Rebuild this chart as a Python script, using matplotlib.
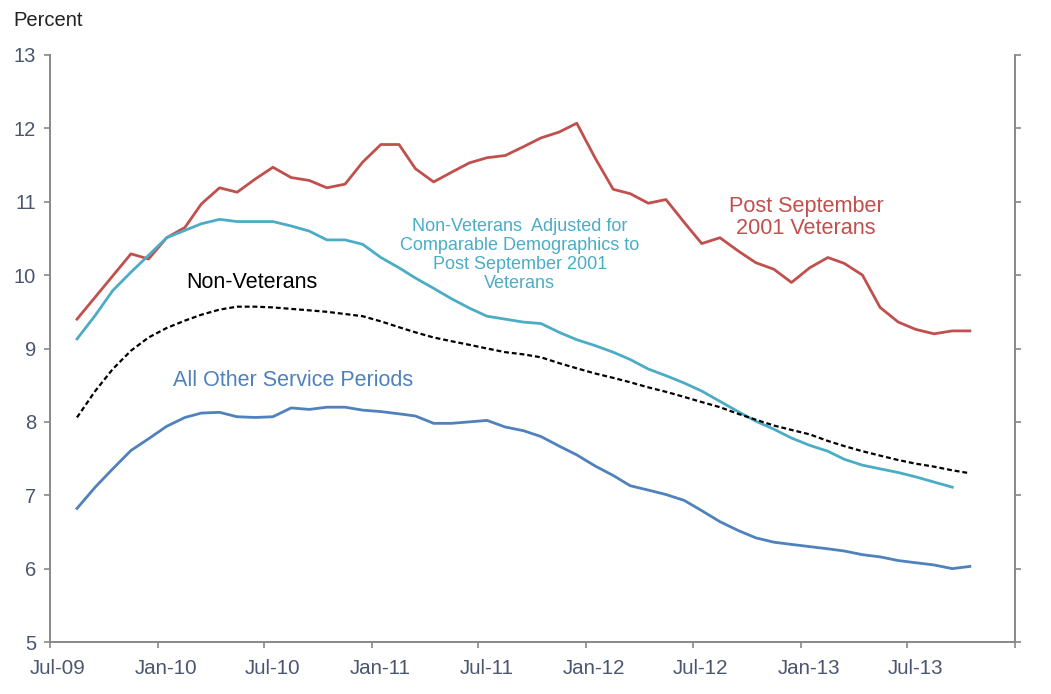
import matplotlib
matplotlib.use("Agg")
import matplotlib.pyplot as plt
import matplotlib.dates as mdates
import matplotlib.transforms as mtransforms
import pandas as pd

plt.rcParams['font.family'] = ['Liberation Sans', 'DejaVu Sans']

# Monthly values, Aug-2009 onward
post911 = [9.40, 9.70, 9.99, 10.29, 10.22,
           10.51, 10.65, 10.97, 11.19, 11.13, 11.31, 11.47, 11.33, 11.29, 11.19, 11.24, 11.54,
           11.78, 11.78, 11.45, 11.27, 11.40, 11.53, 11.60, 11.63, 11.75, 11.87, 11.95, 12.07,
           11.60, 11.17, 11.11, 10.98, 11.03, 10.72, 10.43, 10.51, 10.33, 10.17, 10.08, 9.90,
           10.10, 10.24, 10.16, 10.00, 9.56, 9.36, 9.26, 9.20, 9.24, 9.24]

nonvet_adj = [9.13, 9.45, 9.79, 10.04, 10.27,
              10.51, 10.61, 10.70, 10.76, 10.73, 10.73, 10.73, 10.67, 10.60, 10.48, 10.48, 10.42,
              10.24, 10.10, 9.96, 9.82, 9.68, 9.55, 9.44, 9.40, 9.36, 9.34, 9.22, 9.12,
              9.04, 8.95, 8.85, 8.72, 8.63, 8.53, 8.42, 8.28, 8.14, 8.01, 7.90, 7.78,
              7.68, 7.60, 7.49, 7.41, 7.36, 7.31, 7.25, 7.18, 7.11]

nonvet = [8.06, 8.42, 8.72, 8.97, 9.15,
          9.28, 9.38, 9.46, 9.53, 9.57, 9.57, 9.56, 9.54, 9.52, 9.50, 9.47, 9.44,
          9.37, 9.29, 9.22, 9.15, 9.10, 9.05, 9.00, 8.95, 8.92, 8.88, 8.80, 8.73,
          8.66, 8.60, 8.54, 8.47, 8.41, 8.34, 8.27, 8.20, 8.11, 8.03, 7.95, 7.89,
          7.83, 7.74, 7.67, 7.60, 7.54, 7.48, 7.43, 7.39, 7.34, 7.30]

other_periods = [6.82, 7.11, 7.36, 7.61, 7.77,
                 7.94, 8.06, 8.12, 8.13, 8.07, 8.06, 8.07, 8.19, 8.17, 8.20, 8.20, 8.16,
                 8.14, 8.11, 8.08, 7.98, 7.98, 8.00, 8.02, 7.93, 7.88, 7.80, 7.67, 7.55,
                 7.40, 7.27, 7.13, 7.07, 7.01, 6.93, 6.79, 6.64, 6.52, 6.42, 6.36, 6.33,
                 6.30, 6.27, 6.24, 6.19, 6.16, 6.11, 6.08, 6.05, 6.00, 6.03]

start_month = '2009-08-01'
y_ticks = [5, 6, 7, 8, 9, 10, 11, 12, 13]
x_start, x_end = '2009-07-01', '2014-01-01'


def months(n):
    return pd.date_range(start_month, periods=n, freq='MS') + pd.Timedelta(days=15)


RED = '#C0504D'
CYAN = '#4BACC6'
BLUE = '#4F81BD'
TICKC = '#4A5670'
SPINE = '#888888'

fig = plt.figure(figsize=(10.51, 6.94), dpi=100)
ax = fig.add_axes([50 / 1051, 1 - 642 / 694, (1015 - 50) / 1051, (642 - 55) / 694])

ax.plot(months(len(post911)), post911, color=RED, lw=2.0, solid_joinstyle='round')
ax.plot(months(len(nonvet_adj)), nonvet_adj, color=CYAN, lw=2.0, solid_joinstyle='round')
ax.plot(months(len(nonvet)), nonvet, color='black', lw=1.6, dashes=(2.2, 1.3))
ax.plot(months(len(other_periods)), other_periods, color=BLUE, lw=2.0, solid_joinstyle='round')

ax.set_xlim(pd.Timestamp(x_start), pd.Timestamp(x_end))
ax.set_ylim(5, 13)
ax.set_yticks(y_ticks)
tick_dates = pd.date_range(x_start, x_end, freq='6MS')
ax.set_xticks(tick_dates)
ax.set_xticklabels([d.strftime('%b-%y') if d < pd.Timestamp(x_end) else '' for d in tick_dates])

ax.spines['top'].set_visible(False)
for s in ('left', 'right', 'bottom'):
    ax.spines[s].set_color(SPINE)
    ax.spines[s].set_linewidth(1.4)

ax.tick_params(axis='y', which='both', direction='out', length=4, width=1.2, color=SPINE,
               labelsize=14.5, labelcolor=TICKC, right=True, labelright=False, pad=6)
ax.tick_params(axis='x', direction='out', length=4, width=1.2, color=SPINE,
               labelsize=14.8, labelcolor=TICKC, pad=8)
offset = mtransforms.ScaledTranslation(8 / 100, 0, fig.dpi_scale_trans)
for lab in ax.get_xticklabels():
    lab.set_transform(lab.get_transform() + offset)

fig.text(13 / 1051, 1 - 20 / 694, 'Percent', fontsize=14.5, color='#222222',
         ha='left', va='center')

ax.text(pd.Timestamp('2013-01-10'), 10.79, 'Post September\n2001 Veterans', color=RED,
        fontsize=15.6, ha='center', va='center', linespacing=1.05)
ax.text(pd.Timestamp('2011-09-10'), 10.27,
        'Non-Veterans  Adjusted for\nComparable Demographics to\nPost September 2001\nVeterans',
        color=CYAN, fontsize=13, ha='center', va='center', linespacing=1.15)
ax.text(pd.Timestamp('2010-06-10'), 9.9, 'Non-Veterans', color='black', fontsize=15.5,
        ha='center', va='center')
ax.text(pd.Timestamp('2010-08-20'), 8.56, 'All Other Service Periods', color=BLUE,
        fontsize=15.5, ha='center', va='center')

fig.savefig('out.png', dpi=100)
